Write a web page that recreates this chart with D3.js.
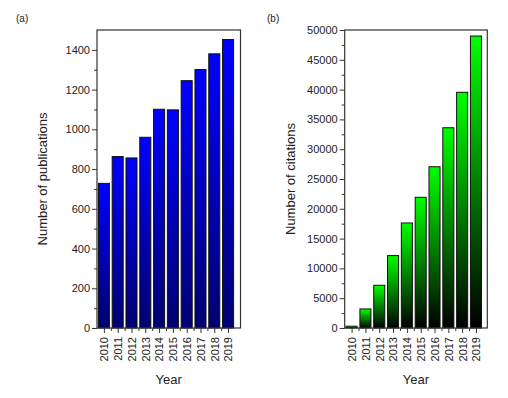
<!DOCTYPE html>
<html><head><meta charset="utf-8">
<script src="https://cdn.jsdelivr.net/npm/d3@7"></script>
<style>body{margin:0;background:#fff}svg{display:block;font-family:"Liberation Sans",Arial,sans-serif}</style>
</head><body><svg id="c" width="508" height="398"></svg>
<script>
const years = [2010,2011,2012,2013,2014,2015,2016,2017,2018,2019];
const publications = [728,863,856,960,1101,1098,1245,1301,1380,1452];
const citations = [300,3200,7170,12150,17620,21930,27060,33600,39550,48990];
const pubTicks = [0,200,400,600,800,1000,1200,1400];
const citTicks = [0,5000,10000,15000,20000,25000,30000,35000,40000,45000,50000];

const svg = d3.select("#c");
const defs = svg.append("defs");
function grad(id, top, bottom){
  const g = defs.append("linearGradient").attr("id", id).attr("x1",0).attr("y1",0).attr("x2",0).attr("y2",1);
  g.append("stop").attr("offset","0%").attr("stop-color",top);
  g.append("stop").attr("offset","100%").attr("stop-color",bottom);
}
grad("gBlue","#0000ff","#000070");
grad("gGreen","#00ff00","#000000");

function panel(o){
  const g = svg.append("g");
  const x = d3.scaleLinear().domain(o.xdom).range([o.left, o.right]);
  const y = d3.scaleLinear().domain([0, o.ymax]).range([o.bottom, o.top]);
  const bw = (x(2011)-x(2010))*0.8;
  g.selectAll("rect.bar").data(o.values).join("rect").attr("class","bar")
    .attr("x",(d,i)=>x(years[i])-bw/2).attr("width",bw)
    .attr("y",d=>y(d)).attr("height",d=>y(0)-y(d))
    .attr("fill",`url(#${o.grad})`).attr("stroke","#111").attr("stroke-width",1);
  // frame
  g.append("rect").attr("x",o.left).attr("y",o.top).attr("width",o.right-o.left).attr("height",o.bottom-o.top)
    .attr("fill","none").attr("stroke","#333").attr("stroke-width",1.2);
  // y axis
  const ya = d3.axisLeft(y).tickValues(o.yticks).tickSize(5).tickPadding(2).tickFormat(d3.format("d"));
  const yg = g.append("g").attr("transform",`translate(${o.left},0)`).call(ya);
  yg.select(".domain").remove();
  const step = o.yticks[1]-o.yticks[0];
  const minors = d3.range(step/2, o.ymax, step);
  g.append("g").attr("transform",`translate(${o.left},0)`)
    .call(d3.axisLeft(y).tickValues(minors).tickSize(3).tickFormat(""))
    .select(".domain").remove();
  // x axis
  const xa = d3.axisBottom(x).tickValues(years).tickSize(5).tickPadding(3).tickFormat(d3.format("d"));
  const xg = g.append("g").attr("transform",`translate(0,${o.bottom})`).call(xa);
  xg.select(".domain").remove();
  xg.selectAll("text").attr("transform","rotate(-90)").attr("text-anchor","end")
    .attr("x",-9).attr("y",0).attr("dy","0.35em");
  g.append("g").attr("transform",`translate(0,${o.bottom})`)
    .call(d3.axisBottom(x).tickValues(years.slice(0,-1).map(v=>v+0.5)).tickSize(3).tickFormat(""))
    .select(".domain").remove();
  g.selectAll(".tick line").attr("stroke","#333");
  g.selectAll(".tick text").attr("font-size",11).attr("fill","#222").attr("font-family","Liberation Sans, Arial, sans-serif");
  // titles
  g.append("text").attr("x",(o.left+o.right)/2).attr("y",384).attr("text-anchor","middle")
    .attr("font-size",13).attr("fill","#222").text("Year");
  g.append("text").attr("transform",`translate(${o.ytx},${(o.top+o.bottom)/2}) rotate(-90)`)
    .attr("text-anchor","middle").attr("font-size",13).attr("fill","#222").text(o.ytitle);
  g.append("text").attr("x",o.lx).attr("y",22).attr("font-size",10).attr("fill","#222").text(o.label);
}

panel({left:97,right:240.5,top:30,bottom:328,xdom:[2009.5,2019.9],ymax:1500,values:publications,
  yticks:pubTicks,grad:"gBlue",ytitle:"Number of publications",ytx:47,label:"(a)",lx:16});
panel({left:344.7,right:487.3,top:30,bottom:328,xdom:[2009.5,2019.82],ymax:50000,values:citations,
  yticks:citTicks,grad:"gGreen",ytitle:"Number of citations",ytx:295,label:"(b)",lx:267});
</script></body></html>
